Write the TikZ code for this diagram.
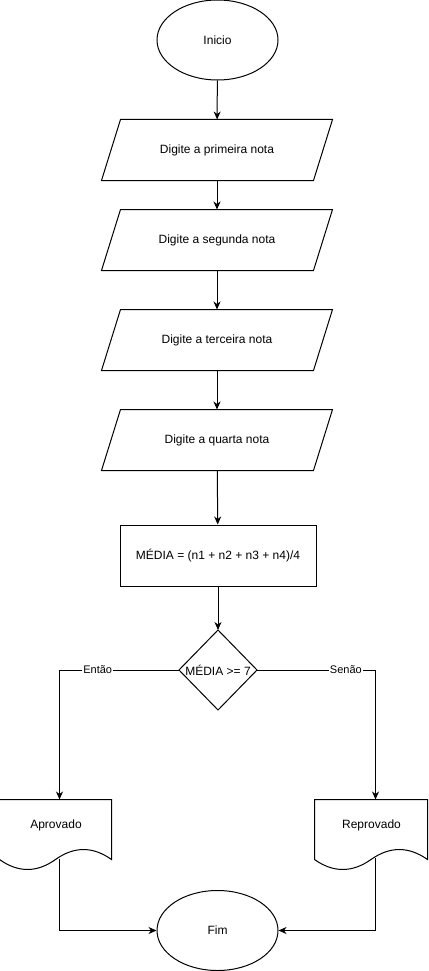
\documentclass[tikz,border=0pt]{standalone}
\usepackage{fontspec}
\setmainfont{Liberation Sans}
\usetikzlibrary{shapes.geometric,arrows.meta,calc}
\newcommand\paraIO[3]{%
  \node[minimum width=211pt, minimum height=60pt, inner sep=0pt] (#1) at (217,#2) {#3};
  \draw ([xshift=9.5pt]#1.north west) -- ([xshift=9.5pt]#1.north east) -- ([xshift=-9.5pt]#1.south east) -- ([xshift=-9.5pt]#1.south west) -- cycle;}
\begin{document}
\begin{tikzpicture}[x=1pt,y=-1pt, line width=1pt,
  every node/.style={font=\fontsize{12}{14}\selectfont, text=black},
  term/.style={ellipse, draw, fill=white, minimum width=121pt, minimum height=80pt, inner sep=0pt},
  procbox/.style={rectangle, draw, minimum width=196pt, minimum height=61pt, inner sep=0pt},
  docbox/.style={rectangle, minimum height=50pt, inner sep=0pt},
  flow/.style={-{Stealth[length=8pt,width=7pt,inset=2.5pt]}},
  lbl/.style={fill=white, font=\fontsize{11}{13}\selectfont, inner sep=1pt}
]
\useasboundingbox (0,0) rectangle (428,971);

\node[term] (start) at (217.5,40) {Inicio};
\paraIO{p1}{150}{Digite a primeira nota}
\paraIO{p2}{240}{Digite a segunda nota}
\paraIO{p3}{340}{Digite a terceira nota}
\paraIO{p4}{440}{Digite a quarta nota}
\node[procbox] (calc) at (218,555.5) {MÉDIA = (n1 + n2 + n3 + n4)/4};

% decision
\node[inner sep=0pt] (dia) at (218,670) {MÉDIA >= 7};
\coordinate (diaN) at (218,630);
\coordinate (diaE) at (257,670);
\coordinate (diaS) at (218,710);
\coordinate (diaW) at (179,670);
\draw (diaN) -- (diaE) -- (diaS) -- (diaW) -- cycle;

% documents
\node[docbox, minimum width=112pt] (ap) at (56,825) {Aprovado};
\draw[shift={(ap.north west)}] (0,0) -- (112,0) -- (112,60)
  .. controls (93.3,46.7) and (74.7,46.7) .. (56,60)
  .. controls (37.3,73.3) and (18.7,73.3) .. (0,60) -- cycle;
\node[docbox, minimum width=113pt] (rp) at (371.5,825) {Reprovado};
\draw[shift={(rp.north west)}] (0,0) -- (113,0) -- (113,60)
  .. controls (94.2,46.7) and (75.3,46.7) .. (56.5,60)
  .. controls (37.7,73.3) and (18.8,73.3) .. (0,60) -- cycle;

\node[term] (fim) at (217.5,930.5) {Fim};

\coordinate (apT) at ($(ap.north west)+(60,0)$);
\coordinate (rpT) at ($(rp.north west)+(61,0)$);
\coordinate (apB) at ($(ap.north west)+(60,59)$);
\coordinate (rpB) at ($(rp.north west)+(61,58)$);

% connectors
\draw[flow] (start) -- (p1);
\draw[flow] (p1) -- (p2);
\draw[flow] (p2) -- (p3);
\draw[flow] (p3) -- (p4);
\draw[flow] (p4) -- (calc);
\draw[flow] (calc) -- (diaN);
\draw[flow] (diaW) -| node[lbl, pos=0.34] {Então} (apT);
\draw[flow] (diaE) -| node[lbl, pos=0.375] {Senão} (rpT);
\draw[flow] (apB) |- (fim.west);
\draw[flow] (rpB) |- (fim.east);
\end{tikzpicture}
\end{document}
